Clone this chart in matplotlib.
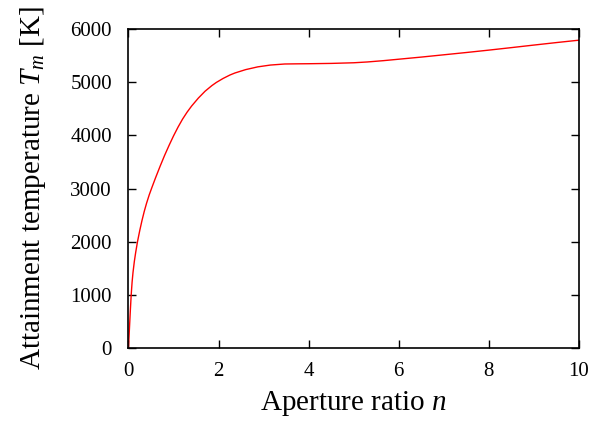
import matplotlib
matplotlib.use("Agg")
import matplotlib.pyplot as plt

plt.rcParams["font.family"] = ["Liberation Serif", "DejaVu Serif"]
plt.rcParams["mathtext.fontset"] = "custom"
plt.rcParams["mathtext.rm"] = "Liberation Serif"
plt.rcParams["mathtext.it"] = "Liberation Serif:italic"

# aperture ratio n and attainment temperature T_m [K]
n = [0, 0.02, 0.04, 0.06, 0.08, 0.1, 0.13, 0.16, 0.2, 0.25, 0.3, 0.35,
     0.4, 0.46, 0.52, 0.6, 0.7, 0.8, 0.9, 1.0, 1.1, 1.2, 1.3, 1.4,
     1.55, 1.7, 1.85, 1.95, 2.1, 2.25, 2.36, 2.6, 2.87, 3.15, 3.47, 3.75,
     4.0, 4.5, 5.0, 5.3, 5.65, 6.0, 6.5, 7.0, 7.5, 8.0, 8.5, 9.0,
     9.5, 10.0]
T_m = [0, 350, 690, 1000, 1240, 1420, 1630, 1800, 2000, 2210, 2400, 2570,
       2720, 2880, 3020, 3200, 3415, 3620, 3810, 3990, 4155, 4305, 4435, 4550,
       4700, 4830, 4935, 4995, 5070, 5134, 5172, 5236, 5288, 5322, 5342, 5345,
       5347, 5353, 5365, 5380, 5404, 5432, 5472, 5515, 5558, 5603, 5650, 5698,
       5745, 5790]

xticks = [0, 2, 4, 6, 8, 10]
yticks = [0, 1000, 2000, 3000, 4000, 5000, 6000]

fig = plt.figure(figsize=(6.01, 4.21), dpi=100)
ax = fig.add_axes([0.2138, 0.1734, 0.7496, 0.7577])
ax.plot(n, T_m, color="red", lw=1.0)

ax.set_xlim(0, 10)
ax.set_ylim(0, 6000)
ax.set_xticks(xticks)
ax.set_yticks(yticks)
ax.tick_params(direction="in", top=True, right=True, length=6, width=1,
               labelsize=15)
ax.tick_params(axis="y", pad=12)
ax.tick_params(axis="x", pad=10)
for s in ax.spines.values():
    s.set_linewidth(1.2)

ax.set_xlabel("Aperture ratio $n$", fontsize=21, labelpad=6)
ax.set_ylabel("Attainment temperature $T_m$ [K]", fontsize=21, labelpad=16)

fig.savefig("out.png", dpi=100)
